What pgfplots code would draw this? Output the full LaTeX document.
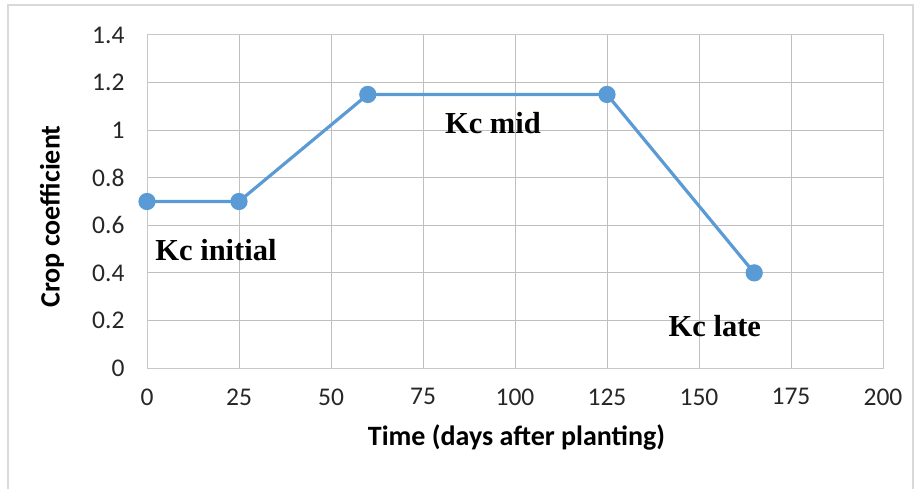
\documentclass[border=0pt]{standalone}
\usepackage{pgfplots}
\pgfplotsset{compat=1.18}
\usepackage{fontspec}
\setmainfont{Carlito}
\newfontfamily\tnr{Liberation Serif}
\definecolor{exblue}{HTML}{5B9BD5}
\definecolor{grid}{HTML}{D9D9D9}
\begin{document}
\begin{tikzpicture}
\path[use as bounding box] (0pt,0pt) rectangle (920pt,488pt);
\draw[grid, line width=2.5pt] (8pt,-5pt) -- (8pt,483pt) -- (913pt,483pt) -- (913pt,-5pt);
\begin{axis}[
  at={(147pt,120pt)}, anchor=south west,
  scale only axis, width=736pt, height=333pt,
  xmin=0, xmax=200, ymin=0, ymax=1.4,
  xtick={0,25,...,200}, ytick={0,0.2,...,1.4},
  yticklabels={0,0.2,0.4,0.6,0.8,1,1.2,1.4},
  grid=major, major grid style={grid, line width=1pt},
  axis line style={grid!80!gray, line width=1pt},
  major tick length=0pt,
  tick label style={font=\fontsize{25.5}{28}\selectfont, text=black!85},
  /pgf/number format/assume math mode=true,
  xticklabel style={yshift=-17pt},
  yticklabel style={xshift=-19pt},
  xlabel={\bfseries Time (days after planting)},
  ylabel={\bfseries Crop coefficient},
  label style={font=\fontsize{28}{32}\selectfont},
  xlabel style={at={(axis description cs:0.502,-0.21)}, anchor=center},
  ylabel style={at={(axis description cs:-0.129,0.455)}, anchor=center},
  clip=false,
]
\addplot[exblue, line width=3.2pt, mark=*, mark size=7pt, mark options={fill=exblue, draw=exblue}]
  coordinates {(0,0.7) (25,0.7) (60,1.15) (125,1.15) (165,0.4)};
\node[font=\tnr\bfseries\fontsize{30.5}{34}\selectfont] at (axis cs:18.75,0.496) {Kc initial};
\node[font=\tnr\bfseries\fontsize{30.5}{34}\selectfont] at (axis cs:94,1.03) {Kc mid};
\node[font=\tnr\bfseries\fontsize{30.5}{34}\selectfont] at (axis cs:154.3,0.175) {Kc late};
\end{axis}
\end{tikzpicture}
\end{document}
